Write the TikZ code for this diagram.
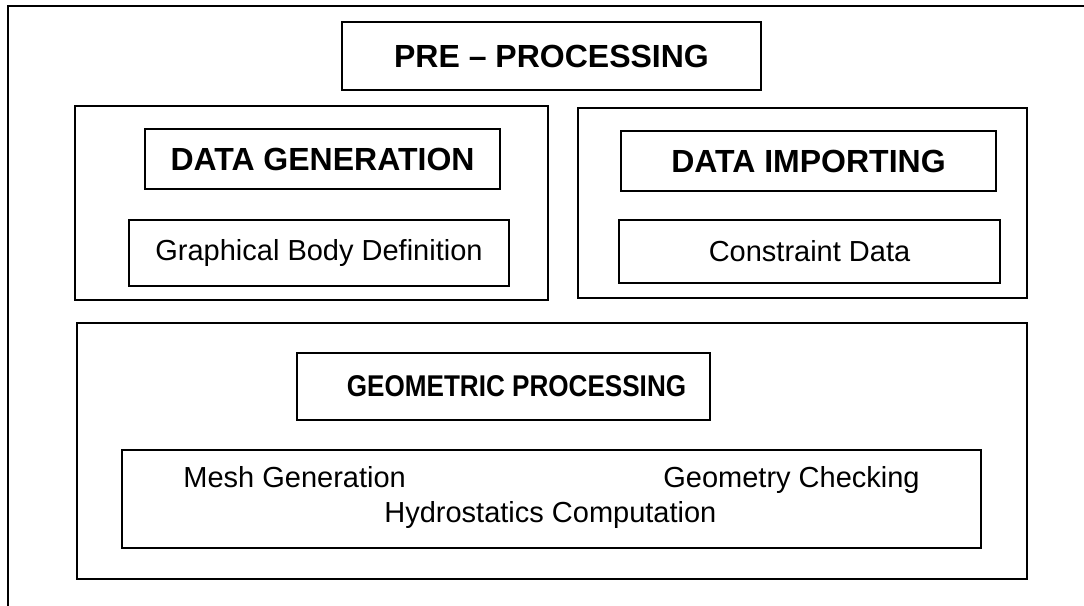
\documentclass[tikz,border=0pt]{standalone}
\usepackage{fontspec}
\setmainfont{Liberation Sans}
\newfontfamily\narrowsans[FakeStretch=0.87]{Liberation Sans}
\usepackage{tikz}

\tikzset{
  box/.style={draw, line width=1pt, inner sep=0pt},
  head/.style={box, font=\fontsize{16}{19}\selectfont\bfseries},
  item/.style={box, font=\fontsize{14.5}{17}\selectfont},
  plain/.style={inner sep=0pt, font=\fontsize{14.5}{17}\selectfont}
}

\begin{document}
\begin{tikzpicture}[x=0.5pt, y=-0.5pt]
\useasboundingbox (0,0) rectangle (1084,606);
% outer frame (runs off the page)
\draw[line width=1pt] (8,606) -- (8,6) -- (1084,6);
\node[head, minimum width=209.5pt, minimum height=34pt] (pre) at (551.5,56) {PRE -- PROCESSING};
% data generation
\node[box, minimum width=236.5pt, minimum height=97pt] (gen) at (311.5,203) {};
\node[head, minimum width=177.5pt, minimum height=30pt] (genhead) at (322.5,159) {DATA GENERATION};
\node[item, minimum width=190pt, minimum height=33pt] (body) at (319,253) {Graphical Body Definition};
% data importing
\node[box, minimum width=224.5pt, minimum height=95pt] (imp) at (802.5,203) {};
\node[head, minimum width=187.5pt, minimum height=30pt] (imphead) at (808.5,161) {DATA IMPORTING};
\node[item, minimum width=190.5pt, minimum height=31.5pt] (cons) at (809.5,251.5) {Constraint Data};
% geometric processing
\node[box, minimum width=475pt, minimum height=128pt] (geo) at (552,451) {};
\node[box, font=\fontsize{15}{18}\narrowsans\bfseries, minimum width=206.5pt, minimum height=33.5pt] (geohead) at (503.5,386.5) {\hspace*{13pt}GEOMETRIC PROCESSING};
\node[box, minimum width=429.5pt, minimum height=49pt] (tasks) at (551.5,499) {};
\node[plain, anchor=base west] (mesh) at (183,487) {Mesh Generation};
\node[plain, anchor=base west] (check) at (663,487) {Geometry Checking};
\node[plain, anchor=base west] (hydro) at (384,522) {Hydrostatics Computation};
\end{tikzpicture}
\end{document}
